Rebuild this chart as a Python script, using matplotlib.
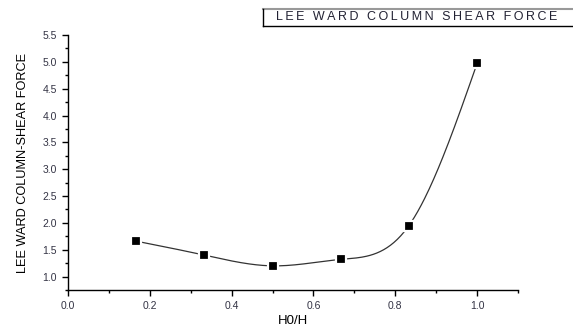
import numpy as np
import matplotlib.pyplot as plt
from matplotlib.ticker import MultipleLocator
from matplotlib.lines import Line2D

plt.rcParams['font.family'] = ['Liberation Sans', 'DejaVu Sans']

# data
h_ratio = [1/6, 2/6, 3/6, 4/6, 5/6, 1.0]
shear = [1.66, 1.40, 1.20, 1.32, 1.95, 4.97]
title = 'LEE WARD COLUMN SHEAR FORCE'


def natural_spline(x, y, n=300):
    # natural cubic spline through the points, for the smooth connecting line
    x = np.asarray(x, float)
    y = np.asarray(y, float)
    k = len(x)
    h = np.diff(x)
    A = np.zeros((k, k))
    b = np.zeros(k)
    A[0, 0] = A[-1, -1] = 1.0
    for i in range(1, k - 1):
        A[i, i - 1] = h[i - 1]
        A[i, i] = 2 * (h[i - 1] + h[i])
        A[i, i + 1] = h[i]
        b[i] = 3 * ((y[i + 1] - y[i]) / h[i] - (y[i] - y[i - 1]) / h[i - 1])
    c = np.linalg.solve(A, b)
    xs = np.linspace(x[0], x[-1], n)
    idx = np.clip(np.searchsorted(x, xs) - 1, 0, k - 2)
    dx = xs - x[idx]
    bb = (y[idx + 1] - y[idx]) / h[idx] - h[idx] * (2 * c[idx] + c[idx + 1]) / 3
    d = (c[idx + 1] - c[idx]) / (3 * h[idx])
    ys = y[idx] + bb * dx + c[idx] * dx ** 2 + d * dx ** 3
    return xs, ys


fig = plt.figure(figsize=(5.73, 3.27), dpi=100)
ax = fig.add_axes([0.1187, 0.1131, 0.7853, 0.780])

xs, ys = natural_spline(h_ratio, shear)
ax.plot(xs, ys, color='#333333', lw=0.9, zorder=2)
ax.plot(h_ratio, shear, ls='none', marker='s', ms=6.5, color='black',
        mec='white', mew=1.6, zorder=3)

ax.set_xlim(0, 1.1)
ax.set_ylim(0.75, 5.5)
ax.xaxis.set_major_locator(MultipleLocator(0.2))
ax.xaxis.set_minor_locator(MultipleLocator(0.1))
ax.yaxis.set_minor_locator(MultipleLocator(0.25))
ax.set_yticks(np.arange(1.0, 5.51, 0.5))
ax.xaxis.set_major_formatter(plt.FormatStrFormatter('%.1f'))
ax.yaxis.set_major_formatter(plt.FormatStrFormatter('%.1f'))

for s in ['top', 'right']:
    ax.spines[s].set_visible(False)
for s in ['left', 'bottom']:
    ax.spines[s].set_linewidth(1.0)
ax.tick_params(which='major', direction='out', length=4, width=1,
               labelsize=7.5, labelcolor='#333344', pad=4)
ax.tick_params(which='minor', direction='out', length=2.5, width=1)

ax.set_xlabel('H0/H', fontsize=9.5, labelpad=3)
ax.set_ylabel('LEE WARD COLUMN-SHEAR FORCE', fontsize=9.2, labelpad=10)

# title box in the top right corner
fig.add_artist(Line2D([263/573, 572/573], [1 - 9/327, 1 - 9/327],
                      color='#999999', lw=1.5, transform=fig.transFigure))
fig.add_artist(Line2D([263/573, 572/573], [1 - 26/327, 1 - 26/327],
                      color='black', lw=1.0, transform=fig.transFigure))
fig.add_artist(Line2D([263/573, 263/573], [1 - 9/327, 1 - 26/327],
                      color='black', lw=1.0, transform=fig.transFigure))
fig.text(417/573, 1 - 17.5/327, '\u2009'.join(title),
         ha='center', va='center', fontsize=9, color='#222233')

fig.savefig('out.png', dpi=100)
